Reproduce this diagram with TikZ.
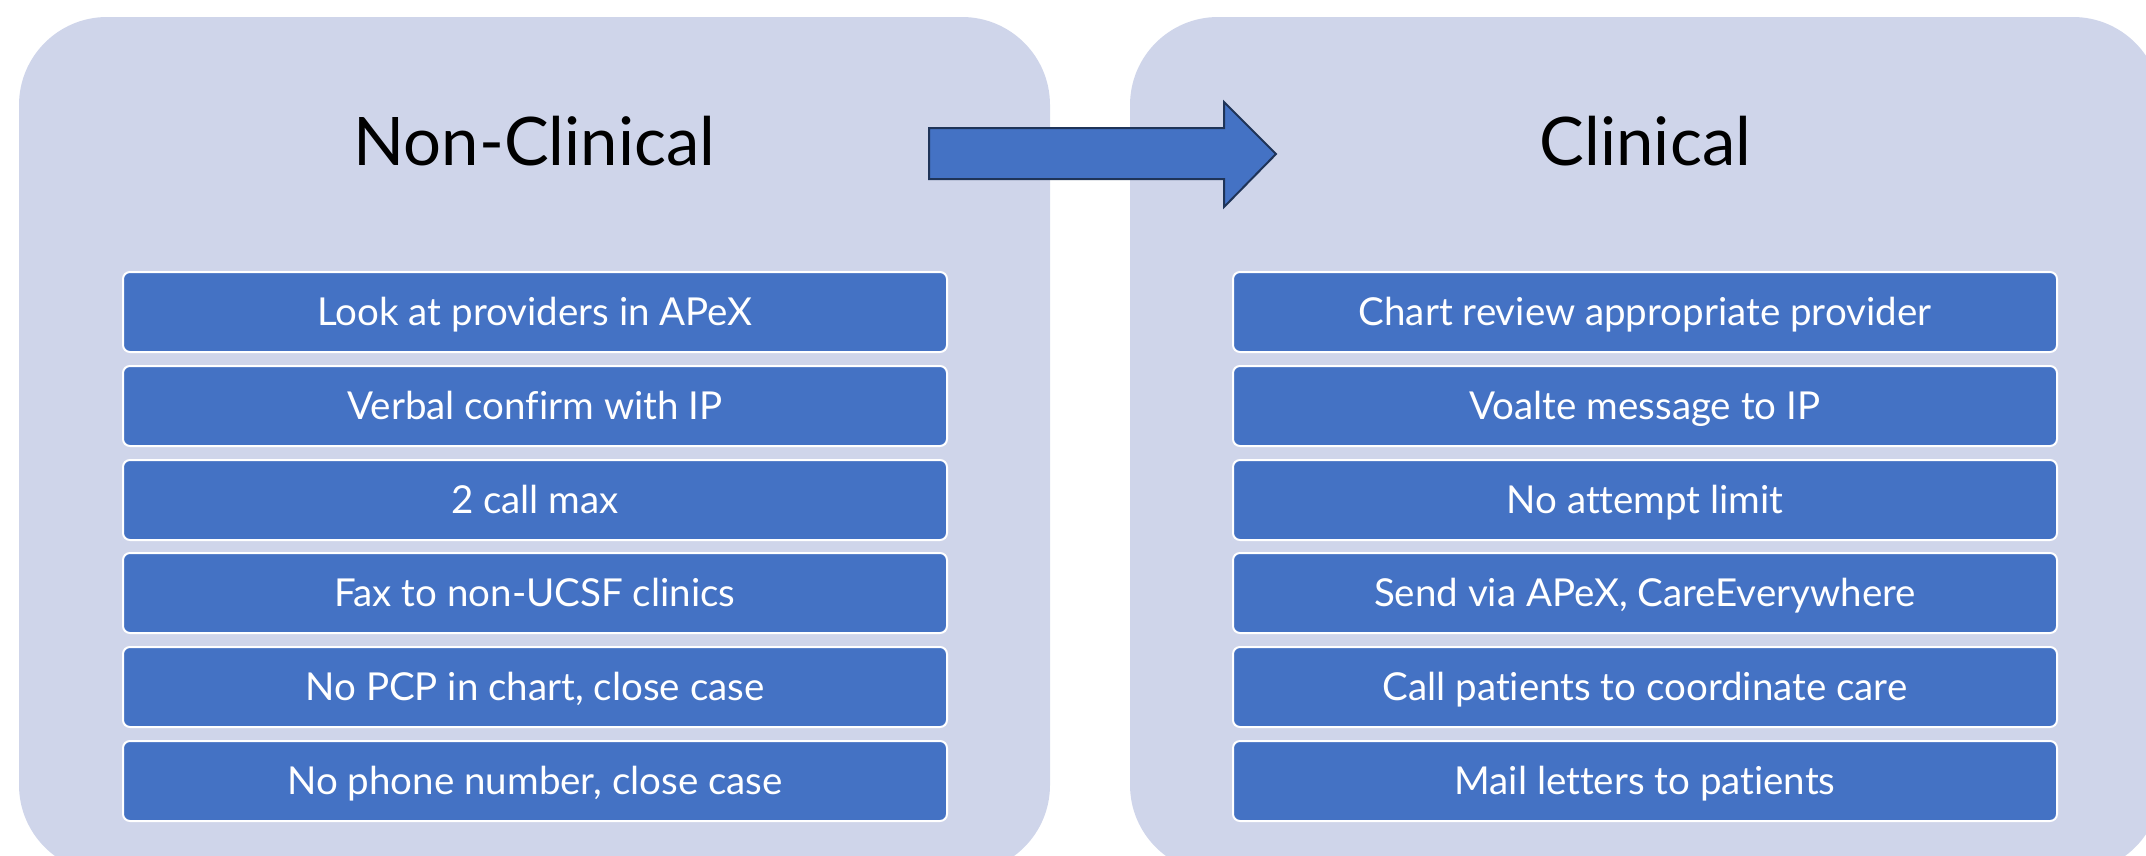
\documentclass[tikz,border=0pt]{standalone}
\usepackage{fontspec}
\setmainfont{Lato}[Ligatures=NoCommon]
\definecolor{panelfill}{HTML}{CFD5EA}
\definecolor{boxblue}{HTML}{4472C4}
\definecolor{navyline}{HTML}{1F3458}
\begin{document}
\begin{tikzpicture}[x=1pt,y=-1pt,
  panelbox/.style={fill=panelfill, rounded corners=88pt, minimum width=1031pt, minimum height=856pt, inner sep=0pt},
  itembox/.style={draw=white, line width=2pt, fill=boxblue, rounded corners=7pt,
    minimum width=824pt, minimum height=80pt, inner sep=0pt, text=white,
    text height=27pt, text depth=1pt, font=\fontsize{38.5}{42}\selectfont},
  titletext/.style={anchor=base, font=\fontsize{67}{70}\selectfont, text=black}]
\useasboundingbox (0,0) rectangle (2146,855);
\begin{scope}
\clip (0,0) rectangle (2146,855);
\node[panelbox] (leftpanel) at (534.5,445) {};
\node[panelbox] (rightpanel) at (1645.5,445) {};
\end{scope}
\node[titletext] (lefttitle) at (534.5,165) {Non-Clinical};
\node[titletext] (righttitle) at (1645.5,165) {Clinical};
% block arrow
\draw[navyline, line width=2pt, fill=boxblue, line join=miter]
  (929,128) -- (1224,128) -- (1224,102) -- (1276,154) -- (1224,207) -- (1224,179) -- (929,179) -- cycle;
% left items
\node[itembox] (l1) at (535,312) {Look at providers in APeX};
\node[itembox] (l2) at (535,406) {Verbal confirm with IP};
\node[itembox] (l3) at (535,500) {2 call max};
\node[itembox] (l4) at (535,593) {Fax to non-UCSF clinics};
\node[itembox] (l5) at (535,687) {No PCP in chart, close case};
\node[itembox] (l6) at (535,781) {No phone number, close case};
% right items
\node[itembox] (r1) at (1645,312) {Chart review appropriate provider};
\node[itembox] (r2) at (1645,406) {Voalte message to IP};
\node[itembox] (r3) at (1645,500) {No attempt limit};
\node[itembox] (r4) at (1645,593) {Send via APeX, CareEverywhere};
\node[itembox] (r5) at (1645,687) {Call patients to coordinate care};
\node[itembox] (r6) at (1645,781) {Mail letters to patients};
\end{tikzpicture}
\end{document}
